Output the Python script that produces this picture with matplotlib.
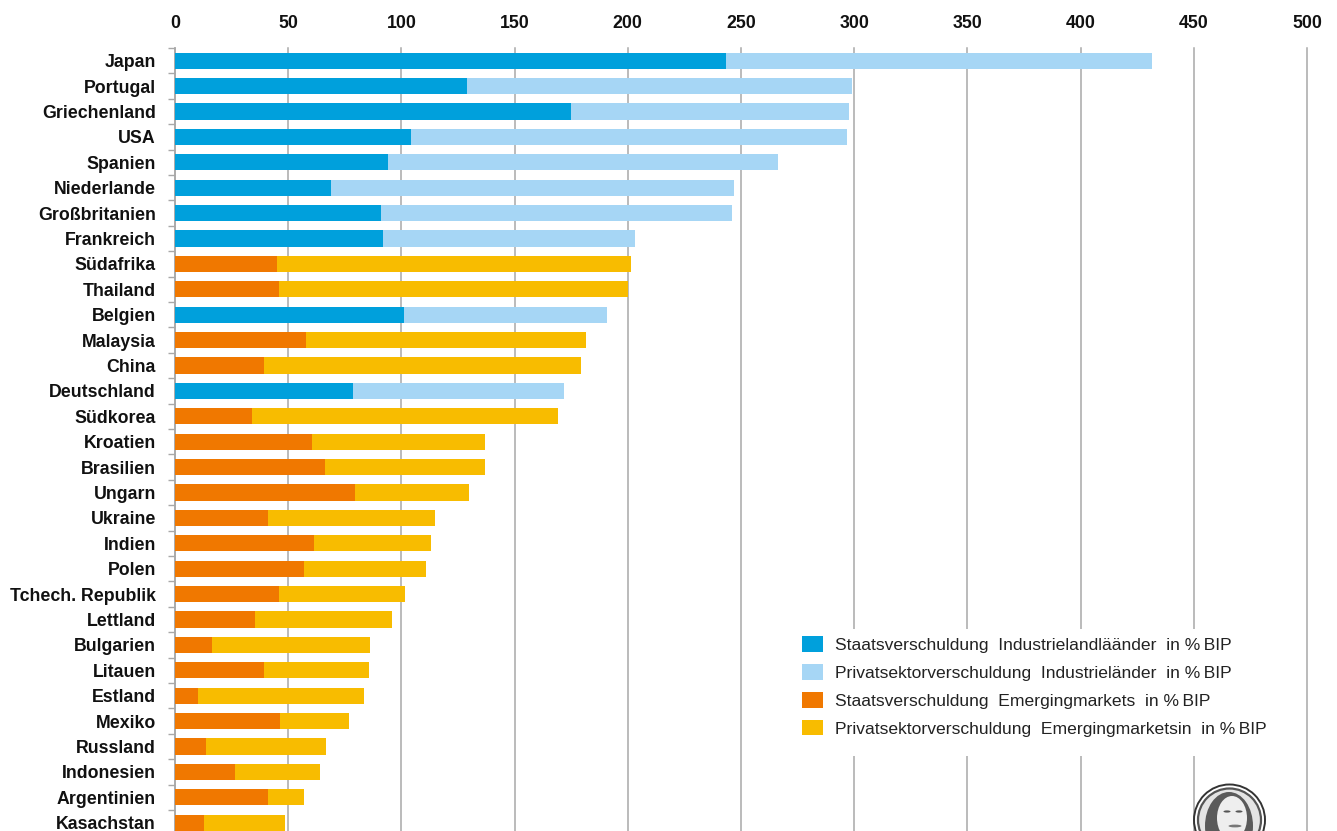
import matplotlib
matplotlib.use("Agg")
import matplotlib.pyplot as plt
from matplotlib.patches import Circle, Ellipse, Patch, Rectangle

countries = ["Japan", "Portugal", "Griechenland", "USA", "Spanien", "Niederlande", "Großbritanien",
             "Frankreich", "Südafrika", "Thailand", "Belgien", "Malaysia", "China", "Deutschland",
             "Südkorea", "Kroatien", "Brasilien", "Ungarn", "Ukraine", "Indien", "Polen",
             "Tchech. Republik", "Lettland", "Bulgarien", "Litauen", "Estland", "Mexiko",
             "Russland", "Indonesien", "Argentinien", "Kasachstan"]
staat_ind = [243.4, 129, 175, 104.4, 94, 69, 91, 92, 0, 0, 101, 0, 0, 78.6, 0, 0, 0, 0, 0, 0, 0,
             0, 0, 0, 0, 0, 0, 0, 0, 0, 0]
privat_ind = [188.1, 170, 122.7, 192.4, 172.3, 178, 155, 111, 0, 0, 90, 0, 0, 93.4, 0, 0, 0, 0, 0, 0, 0,
              0, 0, 0, 0, 0, 0, 0, 0, 0, 0]
staat_em = [0, 0, 0, 0, 0, 0, 0, 0, 45, 46, 0, 58, 39.5, 0, 34, 60.5, 66.3, 79.5, 41, 61.5, 57,
            46, 35.5, 16.5, 39.5, 10, 46.5, 13.5, 26.5, 41, 13]
privat_em = [0, 0, 0, 0, 0, 0, 0, 0, 156.4, 154, 0, 123.5, 140, 0, 135, 76.5, 70.7, 50.5, 74, 51.5, 54,
             55.5, 60.5, 69.5, 46, 73.5, 30.5, 53, 37.5, 16, 35.5]
x_ticks = [0, 50, 100, 150, 200, 250, 300, 350, 400, 450, 500]
labels = ["Staatsverschuldung  Industrielandläänder  in %\u2009BIP",
          "Privatsektorverschuldung  Industrieländer  in %\u2009BIP",
          "Staatsverschuldung  Emergingmarkets  in %\u2009BIP",
          "Privatsektorverschuldung  Emergingmarketsin  in %\u2009BIP"]
colors = ["#00A0DC", "#A6D6F5", "#F07800", "#F8BC00"]

W, H = 1337, 831
plt.rcParams["font.family"] = ["Liberation Sans", "DejaVu Sans"]
fig = plt.figure(figsize=(W / 100, H / 100), dpi=100, facecolor="white")
ax = fig.add_axes([175 / W, (H - 835.4) / H, 1132 / W, 787.4 / H])

pos = list(range(len(countries)))
h = 0.64
ax.barh(pos, staat_ind, height=h, color=colors[0], zorder=3)
ax.barh(pos, privat_ind, height=h, left=staat_ind, color=colors[1], zorder=3)
ax.barh(pos, staat_em, height=h, color=colors[2], zorder=3)
ax.barh(pos, privat_em, height=h, left=staat_em, color=colors[3], zorder=3)

ax.set_xlim(0, 500)
ax.set_ylim(len(countries) - 0.5, -0.5)
ax.xaxis.tick_top()
ax.set_xticks(x_ticks)
ax.set_xticklabels([str(v) for v in x_ticks], fontweight="bold", fontsize=12.8, color="#111111")
ax.tick_params(axis="x", length=0, pad=11.4)
ax.grid(axis="x", color="#a8a8a8", linewidth=1.1, zorder=1, clip_on=False)
ax.set_axisbelow(True)

ax.set_yticks(pos)
ax.set_yticklabels(countries, fontweight="bold", fontsize=12.8, color="#111111")
ax.tick_params(axis="y", length=0, pad=13.7)
ax.set_yticks([p - 0.5 for p in pos] + [len(pos) - 0.5], minor=True)
ax.tick_params(axis="y", which="minor", length=5, width=1.0, color="#a8a8a8")

for s in ("top", "right", "bottom"):
    ax.spines[s].set_visible(False)
ax.spines["left"].set_color("#a8a8a8")
ax.spines["left"].set_linewidth(1.1)

# White panel behind the legend interrupts the gridlines
ax.add_patch(Rectangle((790 / W, (H - 756) / H), 500 / W, 127 / H, transform=fig.transFigure,
                       fc="white", ec="none", zorder=2))

handles = [Patch(facecolor=c, edgecolor="none") for c in colors]
leg = ax.legend(handles, labels, loc="upper left",
                bbox_to_anchor=(802 / W, (H - 636) / H), bbox_transform=fig.transFigure,
                frameon=False, fontsize=12.6, borderpad=0, borderaxespad=0,
                handlelength=1.2, handleheight=1.0, handletextpad=0.69, labelspacing=0.635)
leg.set_zorder(5)
for t in leg.get_texts():
    t.set_color("#222222")

# Portrait medallion in the lower right corner (decoration, cut by the image edge)
m = fig.add_axes([1190 / W, 0, 78 / W, 50 / H])
m.set_xlim(1190, 1268)
m.set_ylim(831, 781)
m.axis("off")
m.add_patch(Circle((1229.5, 820), 35.5, fc="white", ec="#333333", lw=1.4))
m.add_patch(Circle((1229.5, 820), 31.5, fc="#e4e4e4", ec="#555555", lw=1.6))
m.add_patch(Ellipse((1229, 826), 48, 68, fc="#5a5a5a", ec="none"))
m.add_patch(Ellipse((1232, 818), 30, 44, fc="#eeeeee", ec="none"))
m.add_patch(Ellipse((1227, 811.5), 7, 2.2, fc="#555555", ec="none"))
m.add_patch(Ellipse((1239, 811.5), 7, 2.2, fc="#555555", ec="none"))
m.add_patch(Ellipse((1235, 826), 13, 2.8, fc="#777777", ec="none"))

fig.savefig("out.png", dpi=100)
